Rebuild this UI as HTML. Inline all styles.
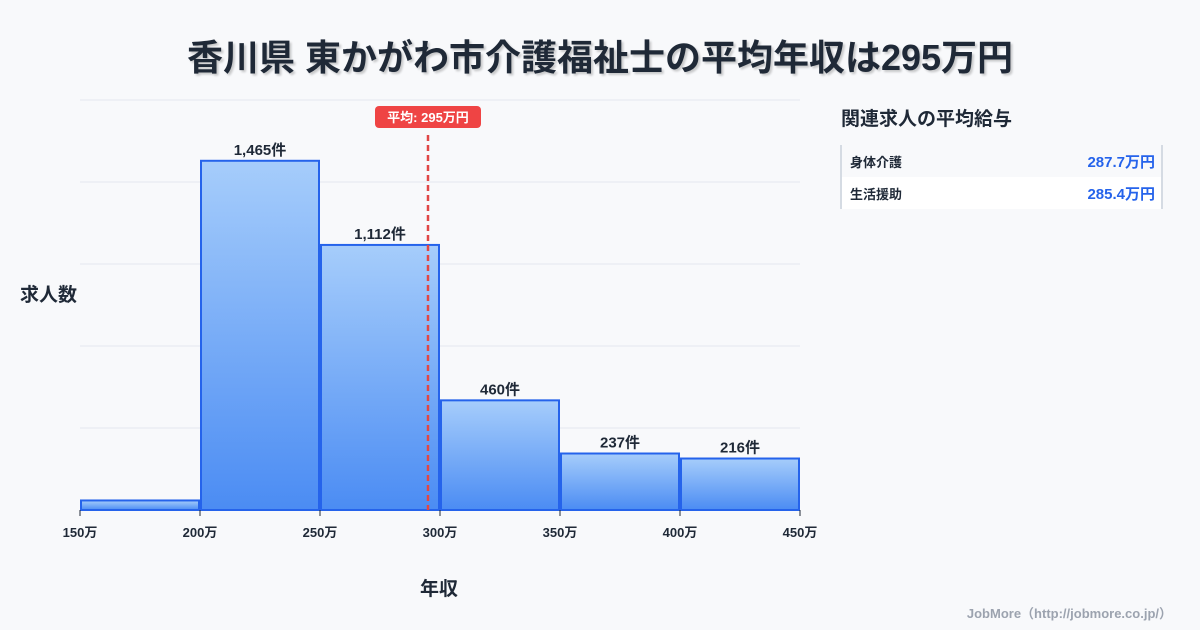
<!DOCTYPE html>
<html><head><meta charset="utf-8"><style>
body{margin:0;width:1200px;height:630px;background:#f8f9fb;font-family:"Liberation Sans","Noto Sans CJK JP",sans-serif;overflow:hidden;position:relative}
.t{position:absolute;white-space:nowrap}
</style></head><body>
<div class="t" style="left:0;width:1200px;top:29px;text-align:center;font-size:36px;font-weight:bold;color:#1f2937;text-shadow:2px 2px 2px rgba(0,0,0,0.2)">香川県 東かがわ市介護福祉士の平均年収は295万円</div>
<svg id="c" width="1200" height="630" style="position:absolute;left:0;top:0">
<defs><linearGradient id="g" x1="0" y1="0" x2="0" y2="1"><stop offset="0" stop-color="#a6cdfb"/><stop offset="1" stop-color="#4b8cf3"/></linearGradient></defs>
</svg>
<div class="t" style="left:20px;top:280px;font-size:19px;font-weight:bold;color:#1f2937">求人数</div>
<div class="t" style="left:420px;top:574px;font-size:19px;font-weight:bold;color:#1f2937">年収</div>
<div class="t" style="left:841px;top:104px;font-size:19px;font-weight:bold;color:#1f2937">関連求人の平均給与</div>
<div style="position:absolute;left:840px;top:145px;width:319px;height:64px;border-left:2px solid #d5dbe3;border-right:2px solid #d5dbe3">
<div style="height:32px;display:flex;justify-content:space-between;align-items:center;padding:0 6px 0 8px;font-size:13px;font-weight:bold;color:#1f2937"><span>身体介護</span><span style="color:#2563eb;font-size:15px">287.7万円</span></div>
<div style="height:32px;background:#fff;display:flex;justify-content:space-between;align-items:center;padding:0 6px 0 8px;font-size:13px;font-weight:bold;color:#1f2937"><span>生活援助</span><span style="color:#2563eb;font-size:15px">285.4万円</span></div>
</div>
<div class="t" style="right:28px;top:603px;font-size:13px;font-weight:bold;color:#9ca3af">JobMore（http://jobmore.co.jp/）</div>
<script>
const binStarts=[150,200,250,300,350,400];
const counts=[40,1465,1112,460,237,216];
const countLabels=["","1,465件","1,112件","460件","237件","216件"];
const xTicks=[150,200,250,300,350,400,450];
const meanValue=295;
const binWidth=50,xMin=150,xMax=450,yMax=1720;
const L=80,R=800,T=100,B=510;
const sx=v=>L+(v-xMin)/(xMax-xMin)*(R-L);
const sy=v=>B-v/yMax*(B-T);
const svg=document.getElementById('c');
const NS='http://www.w3.org/2000/svg';
function mk(tag,a){const e=document.createElementNS(NS,tag);for(const k in a)e.setAttribute(k,a[k]);svg.appendChild(e);return e;}
for(let i=0;i<=5;i++){const y=T+i*(B-T)/5;const l=mk('line',{x1:L,x2:R,y1:y,y2:y,stroke:'#e3e8ef','stroke-width':1});

}
binStarts.forEach((s,i)=>{const x0=sx(s)+1,x1=sx(s+binWidth)-1,y=sy(counts[i]);
const r=mk('rect',{x:x0,y:y,width:x1-x0,height:B-y,fill:'url(#g)',stroke:'#2563eb','stroke-width':2});


if(countLabels[i]){const t=mk('text',{x:(x0+x1)/2,y:y-6,'text-anchor':'middle','font-size':15,'font-weight':'bold',fill:'#1f2937'});t.textContent=countLabels[i];

}});
xTicks.forEach(v=>{const x=sx(v);const tk=mk('line',{x1:x,x2:x,y1:B,y2:B+6,stroke:'#1f2937','stroke-width':1});


const t=mk('text',{x:x,y:B+27,'text-anchor':'middle','font-size':13,'font-weight':'bold',fill:'#1f2937'});t.textContent=v+'万';

});
const mx=sx(meanValue);
const ml=mk('line',{x1:mx,x2:mx,y1:135,y2:B,stroke:'#e04646','stroke-width':2.5,'stroke-dasharray':'6,4'});


const mb=mk('rect',{x:mx-53,y:106,width:106,height:22,rx:4,fill:'#ef4444'});


const mt=mk('text',{x:mx,y:122,'text-anchor':'middle','font-size':13,'font-weight':'bold',fill:'#fff'});mt.textContent='平均: '+meanValue+'万円';


</script>
</body></html>
